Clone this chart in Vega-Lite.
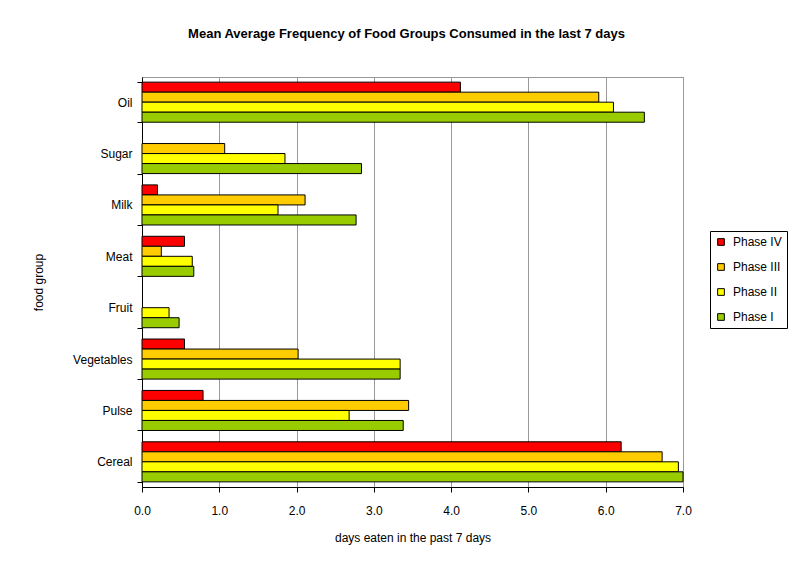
{
  "$schema": "https://vega.github.io/schema/vega-lite/v6.json",
  "autosize": {"type": "none"},
  "padding": {"left": 142, "top": 77, "right": 111, "bottom": 74},
  "width": 541,
  "height": 410,
  "background": "white",
  "title": {
    "text": "Mean Average Frequency of Food Groups Consumed in the last 7 days",
    "font": "Liberation Sans",
    "fontSize": 13,
    "fontWeight": "bold",
    "color": "black",
    "anchor": "middle",
    "dx": -6,
    "offset": 30
  },
  "data": {
    "values": [
      {"food": "Oil", "phase": "Phase IV", "days": 4.12},
      {"food": "Oil", "phase": "Phase III", "days": 5.91},
      {"food": "Oil", "phase": "Phase II", "days": 6.10},
      {"food": "Oil", "phase": "Phase I", "days": 6.50},
      {"food": "Sugar", "phase": "Phase III", "days": 1.07},
      {"food": "Sugar", "phase": "Phase II", "days": 1.85},
      {"food": "Sugar", "phase": "Phase I", "days": 2.84},
      {"food": "Milk", "phase": "Phase IV", "days": 0.20},
      {"food": "Milk", "phase": "Phase III", "days": 2.11},
      {"food": "Milk", "phase": "Phase II", "days": 1.76},
      {"food": "Milk", "phase": "Phase I", "days": 2.77},
      {"food": "Meat", "phase": "Phase IV", "days": 0.55},
      {"food": "Meat", "phase": "Phase III", "days": 0.25},
      {"food": "Meat", "phase": "Phase II", "days": 0.65},
      {"food": "Meat", "phase": "Phase I", "days": 0.67},
      {"food": "Fruit", "phase": "Phase II", "days": 0.35},
      {"food": "Fruit", "phase": "Phase I", "days": 0.48},
      {"food": "Vegetables", "phase": "Phase IV", "days": 0.55},
      {"food": "Vegetables", "phase": "Phase III", "days": 2.02},
      {"food": "Vegetables", "phase": "Phase II", "days": 3.34},
      {"food": "Vegetables", "phase": "Phase I", "days": 3.34},
      {"food": "Pulse", "phase": "Phase IV", "days": 0.79},
      {"food": "Pulse", "phase": "Phase III", "days": 3.45},
      {"food": "Pulse", "phase": "Phase II", "days": 2.68},
      {"food": "Pulse", "phase": "Phase I", "days": 3.38},
      {"food": "Cereal", "phase": "Phase IV", "days": 6.20},
      {"food": "Cereal", "phase": "Phase III", "days": 6.73},
      {"food": "Cereal", "phase": "Phase II", "days": 6.94},
      {"food": "Cereal", "phase": "Phase I", "days": 7.00}
    ]
  },
  "mark": {"type": "bar", "stroke": "black", "strokeWidth": 1},
  "encoding": {
    "y": {
      "field": "food",
      "type": "nominal",
      "sort": ["Oil", "Sugar", "Milk", "Meat", "Fruit", "Vegetables", "Pulse", "Cereal"],
      "scale": {"paddingInner": 0.22, "paddingOuter": 0.1},
      "axis": {
        "title": "food group",
        "titleFont": "Liberation Sans",
        "titleFontSize": 12,
        "titleFontWeight": "normal",
        "titleColor": "black",
        "titlePadding": 27,
        "labelFont": "Liberation Sans",
        "labelFontSize": 12,
        "labelColor": "black",
        "labelPadding": 5,
        "tickBand": "extent",
        "tickColor": "black",
        "tickSize": 5,
        "domainColor": "black",
        "grid": false
      }
    },
    "yOffset": {
      "field": "phase",
      "type": "nominal",
      "sort": ["Phase IV", "Phase III", "Phase II", "Phase I"],
      "scale": {"paddingInner": 0, "paddingOuter": 0}
    },
    "x": {
      "field": "days",
      "type": "quantitative",
      "scale": {"domain": [0, 7], "nice": false},
      "axis": {
        "title": "days eaten in the past 7 days",
        "titleFont": "Liberation Sans",
        "titleFontSize": 12,
        "titleFontWeight": "normal",
        "titleColor": "black",
        "titlePadding": 16,
        "labelFont": "Liberation Sans",
        "labelFontSize": 12,
        "labelColor": "black",
        "labelPadding": 13,
        "labelFlush": false,
        "values": [0, 1, 2, 3, 4, 5, 6, 7],
        "format": ".1f",
        "tickColor": "black",
        "tickSize": 5,
        "domainColor": "black",
        "grid": true,
        "gridColor": "#999999",
        "gridWidth": 1
      }
    },
    "color": {
      "field": "phase",
      "type": "nominal",
      "sort": ["Phase IV", "Phase III", "Phase II", "Phase I"],
      "scale": {
        "domain": ["Phase IV", "Phase III", "Phase II", "Phase I"],
        "range": ["#FF0000", "#FFCC00", "#FFFF00", "#99CC00"]
      },
      "legend": {
        "title": null,
        "orient": "none",
        "legendX": 568,
        "legendY": 154,
        "symbolType": "square",
        "symbolSize": 45,
        "symbolStrokeColor": "black",
        "symbolStrokeWidth": 1,
        "labelFont": "Liberation Sans",
        "labelFontSize": 12,
        "labelColor": "black",
        "labelOffset": 6,
        "rowPadding": 13,
        "padding": 5,
        "strokeColor": "black",
        "fillColor": "white"
      }
    }
  },
  "config": {
    "view": {"stroke": "#999999", "strokeWidth": 1}
  }
}
